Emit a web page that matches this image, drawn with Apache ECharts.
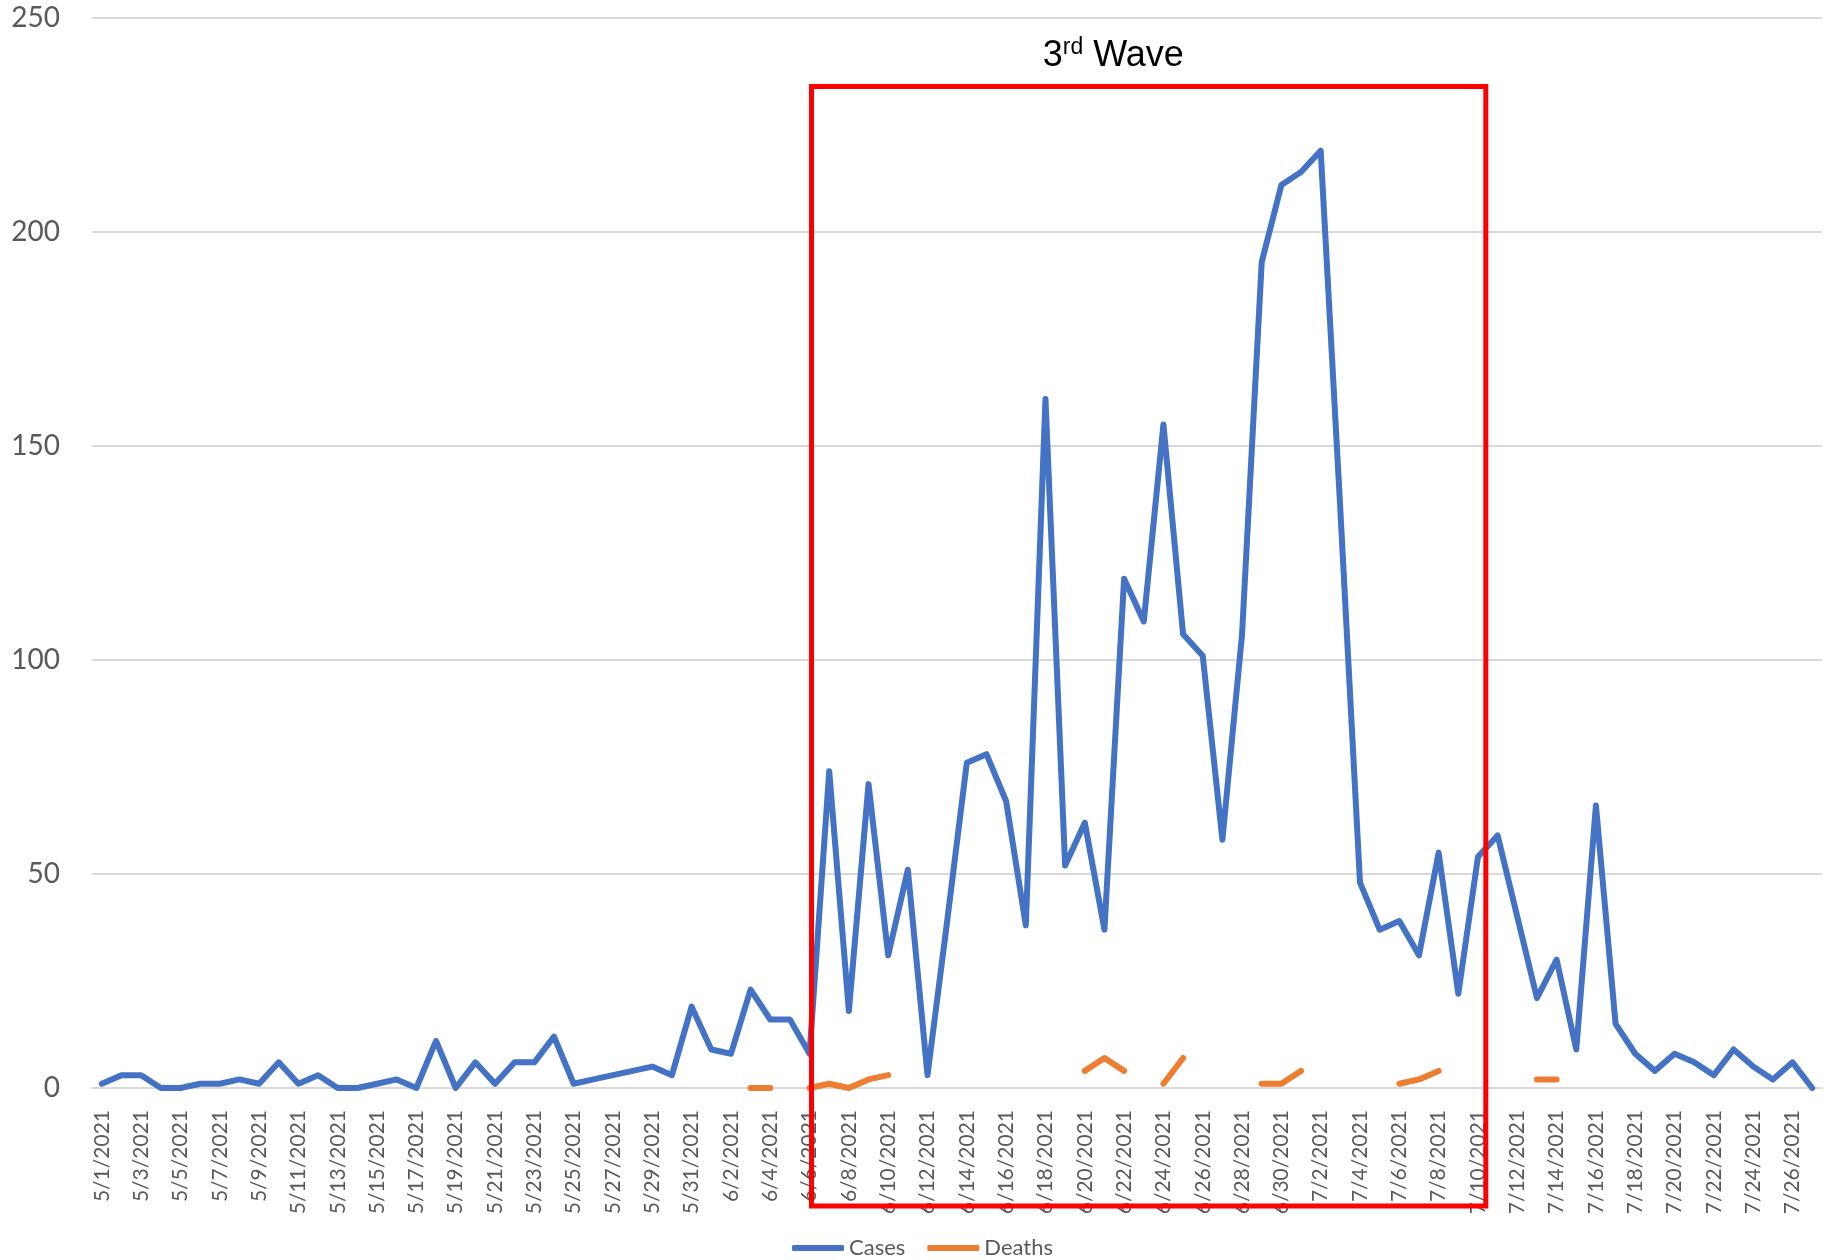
<!DOCTYPE html>
<html>
<head>
<meta charset="utf-8">
<script src="https://cdn.jsdelivr.net/npm/echarts@6/dist/echarts.min.js"></script>
<style>
  html, body { margin: 0; padding: 0; background: #fff; }
  #chart { width: 1845px; height: 1260px; }
</style>
</head>
<body>
<div id="chart"></div>
<script>
// daily dates shown on the category axis
const dates = [
  '5/1/2021', '5/2/2021', '5/3/2021', '5/4/2021', '5/5/2021', '5/6/2021', '5/7/2021', '5/8/2021',
  '5/9/2021', '5/10/2021', '5/11/2021', '5/12/2021', '5/13/2021', '5/14/2021', '5/15/2021', '5/16/2021',
  '5/17/2021', '5/18/2021', '5/19/2021', '5/20/2021', '5/21/2021', '5/22/2021', '5/23/2021', '5/24/2021',
  '5/25/2021', '5/26/2021', '5/27/2021', '5/28/2021', '5/29/2021', '5/30/2021', '5/31/2021',
  '6/1/2021', '6/2/2021', '6/3/2021', '6/4/2021', '6/5/2021', '6/6/2021', '6/7/2021', '6/8/2021',
  '6/9/2021', '6/10/2021', '6/11/2021', '6/12/2021', '6/13/2021', '6/14/2021', '6/15/2021', '6/16/2021',
  '6/17/2021', '6/18/2021', '6/19/2021', '6/20/2021', '6/21/2021', '6/22/2021', '6/23/2021', '6/24/2021',
  '6/25/2021', '6/26/2021', '6/27/2021', '6/28/2021', '6/29/2021', '6/30/2021',
  '7/1/2021', '7/2/2021', '7/3/2021', '7/4/2021', '7/5/2021', '7/6/2021', '7/7/2021', '7/8/2021',
  '7/9/2021', '7/10/2021', '7/11/2021', '7/12/2021', '7/13/2021', '7/14/2021', '7/15/2021', '7/16/2021',
  '7/17/2021', '7/18/2021', '7/19/2021', '7/20/2021', '7/21/2021', '7/22/2021', '7/23/2021', '7/24/2021',
  '7/25/2021', '7/26/2021', '7/27/2021'
]

const cases = [
  1, 3, 3, 0, 0, 1, 1, 2, 1, 6, 1, 3, 0, 0, 1, 2, 0, 11, 0, 6, 1, 6, 6, 12, 1, 2, 3, 4, 5, 3, 19,
  9, 8, 23, 16, 16, 8, 74, 18, 71, 31, 51, 3, 39, 76, 78, 67, 38, 161, 52, 62, 37, 119, 109, 155,
  106, 101, 58, 106, 193, 211,
  214, 219, 135, 48, 37, 39, 31, 55, 22, 54, 59, 40, 21, 30, 9, 66, 15, 8, 4, 8, 6, 3, 9, 5, 2, 6, 0
]

// gaps where no deaths were reported
const deaths = [
  null, null, null, null, null, null, null, null, null, null, null, null, null, null, null, null,
  null, null, null, null, null, null, null, null, null, null, null, null, null, null, null,
  null, null, 0, 0, null, 0, 1, 0, 2, 3, null, null, null, null, null, null, null, null, null,
  4, 7, 4, null, 1, 7, null, null, null, 1, 1,
  4, null, null, null, null, 1, 2, 4, null, null, null, null, 2, 2, null, null, null, null,
  null, null, null, null, null, null, null, null, null
]

// "3rd Wave" box, in category index / value units
const waveFrom = 36.1
const waveTo = 70.4
const waveTop = 234
const waveLabelAt = 51.45

const FONT = 'Lato, "Open Sans", sans-serif'
const chart = echarts.init(document.getElementById('chart'))

chart.setOption({
  animation: false,
  color: ['#4472C4', '#ED7D31'],
  grid: { left: 92, right: 23, top: 18, bottom: 172 },
  legend: {
    bottom: -4,
    left: 'center',
    icon: 'roundRect',
    itemWidth: 52,
    itemHeight: 6,
    itemGap: 22,
    textStyle: { color: '#595959', fontSize: 22, fontFamily: FONT },
    data: ['Cases', 'Deaths']
  },
  xAxis: {
    type: 'category',
    data: dates,
    boundaryGap: true,
    axisLine: { lineStyle: { color: '#d9d9d9', width: 2 } },
    axisTick: { interval: 1, length: 7, lineStyle: { color: '#d9d9d9', width: 2 } },
    axisLabel: {
      interval: 1,
      rotate: 90,
      margin: 22,
      color: '#595959',
      fontSize: 21,
      fontFamily: FONT
    }
  },
  yAxis: {
    type: 'value',
    min: 0,
    max: 250,
    interval: 50,
    axisLine: { show: false },
    axisTick: { show: false },
    splitLine: { lineStyle: { color: '#d9d9d9', width: 2 } },
    axisLabel: { color: '#595959', fontSize: 28, margin: 32, fontFamily: FONT }
  },
  series: [
    {
      name: 'Cases',
      type: 'line',
      data: cases,
      showSymbol: false,
      lineStyle: { width: 6, cap: 'round', join: 'round' }
    },
    {
      name: 'Deaths',
      type: 'line',
      data: deaths,
      showSymbol: false,
      connectNulls: false,
      lineStyle: { width: 6, cap: 'round', join: 'round' }
    }
  ]
})

// place the annotation from axis positions
const px = idx => {
  const a = chart.convertToPixel({ xAxisIndex: 0 }, Math.floor(idx))
  const b = chart.convertToPixel({ xAxisIndex: 0 }, Math.floor(idx) + 1)
  return a + (b - a) * (idx - Math.floor(idx))
}
const x0 = px(waveFrom)
const x1 = px(waveTo)
const yTop = chart.convertToPixel({ yAxisIndex: 0 }, waveTop)
const yZero = chart.convertToPixel({ yAxisIndex: 0 }, 0)

chart.setOption({
  graphic: [
    {
      type: 'rect',
      z: 100,
      shape: { x: x0, y: yTop, width: x1 - x0, height: yZero - yTop + 118 },
      style: { fill: 'none', stroke: '#FF0000', lineWidth: 5 }
    },
    {
      type: 'text',
      z: 100,
      x: px(waveLabelAt),
      y: yTop - 30,
      style: {
        text: '{n|3}{s|rd}{n| Wave}',
        align: 'center',
        verticalAlign: 'middle',
        rich: {
          n: { fontSize: 36, lineHeight: 40, fontFamily: '"Liberation Sans", Arial', fill: '#000' },
          s: { fontSize: 23, lineHeight: 40, verticalAlign: 'top', fontFamily: '"Liberation Sans", Arial', fill: '#000' }
        }
      }
    }
  ]
})
</script>
</body>
</html>
